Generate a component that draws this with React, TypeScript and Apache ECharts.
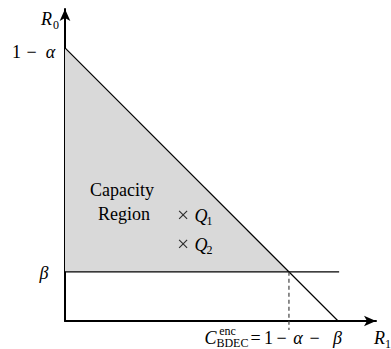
import React, { useEffect, useRef } from 'react';
import * as echarts from 'echarts';

// symbolic values (alpha, beta)
const alpha = 0.2;
const beta = 0.144;
const xMax = 0.911;
const yMax = 0.914;
const betaLineEnd = 0.803;
const dashBottom = -0.026;
const qPointsX = [0.346, 0.346];
const qPointsY = [0.311, 0.226];
const qSubs = ['1', '2'];
const regionLabel = [0.173, 0.35];

const W = 391;
const H = 349;
const GRID = { left: 65, right: 15, top: 9, bottom: 28 };
const FONT = 'Liberation Serif';

function T(text: string, x: number, y: number, size: number, italic = false) {
  const style: any = { text, fontSize: size, fontFamily: FONT, fill: '#000' };
  if (italic) style.fontStyle = 'italic';
  return { type: 'text', x, y, z: 20, style };
}

export default function App() {
  const ref = useRef<HTMLDivElement>(null);
  useEffect(() => {
    document.body.style.margin = '0';
    const chart = echarts.init(ref.current!, null, { renderer: 'svg' });
    const top = 1 - alpha;
    const cap = 1 - alpha - beta;
    const regionX = [0, 0, cap];
    const regionY = [beta, top, beta];
    const gw = W - GRID.left - GRID.right;
    const gh = H - GRID.top - GRID.bottom;
    // same linear mapping as the value axes below (min 0, max xMax / yMax)
    const px = (x: number, y: number) => [GRID.left + (x / xMax) * gw, GRID.top + (1 - y / yMax) * gh];
    const axisCommon = {
      type: 'value',
      min: 0,
      axisLine: {
        show: true,
        onZero: false,
        symbol: ['none', 'arrow'],
        symbolSize: [8, 12],
        lineStyle: { color: '#000', width: 2 },
      },
      axisTick: { show: false },
      axisLabel: { show: false },
      splitLine: { show: false },
    };

    const yTop = px(0, yMax);
    const A = px(0, top);
    const B = px(0, beta);
    const xEnd = px(xMax, 0);
    const D = px(cap, 0);
    const R = px(regionLabel[0], regionLabel[1]);
    const g: any[] = [
      T('R', yTop[0] - 24, yTop[1] + 1, 18, true),
      T('0', yTop[0] - 12, yTop[1] + 10, 12),
      T('1', A[0] - 53, A[1] - 5, 18),
      T('\u2212', A[0] - 38.5, A[1] - 5, 18),
      T('\u03b1', A[0] - 19.2, A[1] - 5, 18, true),
      T('\u03b2', B[0] - 25.5, B[1] - 8, 18, true),
      T('R', xEnd[0] - 2, xEnd[1] + 8, 18, true),
      T('1', xEnd[0] + 9, xEnd[1] + 17, 12),
      T('C', D[0] - 84.5, D[1] + 8, 18, true),
      T('enc', D[0] - 69.8, D[1] + 4, 12),
      T('BDEC', D[0] - 72.5, D[1] + 16, 12),
      T('=', D[0] - 38.5, D[1] + 8, 18),
      T('1', D[0] - 25, D[1] + 8, 18),
      T('\u2212', D[0] - 12.5, D[1] + 8, 18),
      T('\u03b1', D[0] + 4.3, D[1] + 8, 18, true),
      T('\u2212', D[0] + 20.5, D[1] + 8, 18),
      T('\u03b2', D[0] + 44, D[1] + 8, 18, true),
      T('Capacity', R[0] - 34, R[1] - 20.6, 18),
      T('Region', R[0] - 26, R[1] + 3.4, 18),
    ];
    qPointsX.forEach((x, i) => {
      const p = px(x, qPointsY[i]);
      g.push(T('Q', p[0] + 11.5, p[1] - 8, 18, true));
      g.push(T(qSubs[i], p[0] + 23.5, p[1], 12));
    });

    chart.setOption({
      animation: false,
      grid: GRID,
      xAxis: { ...axisCommon, max: xMax },
      yAxis: { ...axisCommon, max: yMax },
      graphic: g,
      series: [
        {
          type: 'custom',
          silent: true,
          z: 1,
          data: regionX.map((x, i) => [x, regionY[i]]),
          renderItem: (params: any, api: any) => {
            if (params.dataIndex !== 0) return null;
            const pts = regionX.map((x, i) => api.coord([x, regionY[i]]));
            return { type: 'polygon', shape: { points: pts }, style: { fill: '#d9d9d9', stroke: 'none' } };
          },
        },
        {
          type: 'line',
          data: [[0, top], [top, 0]],
          symbol: 'none',
          lineStyle: { color: '#000', width: 1.2 },
          z: 3,
        },
        {
          type: 'line',
          data: [[0, beta], [betaLineEnd, beta]],
          symbol: 'none',
          lineStyle: { color: '#000', width: 1.2 },
          z: 3,
        },
        {
          type: 'line',
          data: [[cap, beta], [cap, dashBottom]],
          symbol: 'none',
          clip: false,
          lineStyle: { color: '#444', width: 1.2, type: [4, 3] },
          z: 3,
        },
        {
          type: 'scatter',
          data: qPointsX.map((x, i) => [x, qPointsY[i]]),
          symbol: 'path://M0,0L10,10M10,0L0,10',
          symbolSize: 8,
          itemStyle: { color: 'none', borderColor: '#000', borderWidth: 1.1 },
          z: 5,
        },
      ],
    });
    return () => chart.dispose();
  }, []);
  return (
    <div style={{ position: 'relative', width: W, height: H, overflow: 'hidden' }}>
      <div ref={ref} style={{ width: W, height: H }} />
    </div>
  );
}
